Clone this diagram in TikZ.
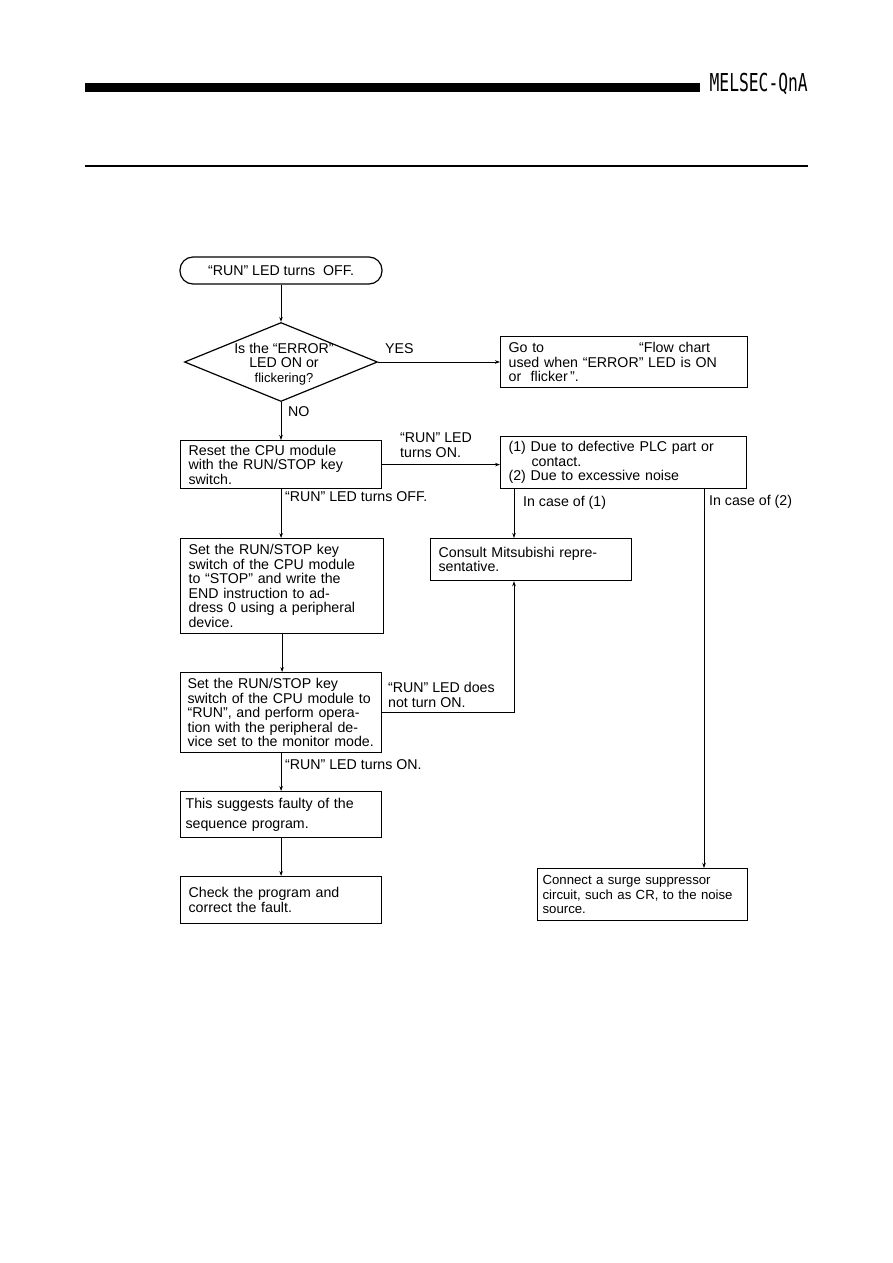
\documentclass[tikz,border=0pt]{standalone}
\usepackage{fontspec}
\setmainfont{Liberation Sans}
\newfontfamily\headfont{DejaVu Sans Mono}
\usepackage{graphicx}
\usetikzlibrary{arrows.meta,positioning,shapes.geometric}

\begin{document}
\begin{tikzpicture}[
  x=1pt, y=-1pt,
  every node/.style={font=\fontsize{14.2}{14.5}\selectfont},
  box/.style 2 args={draw, line width=1.2pt, anchor=north west, align=left,
    inner xsep=8pt, inner ysep=0pt, text width=#1, minimum height=#2},
  term/.style={draw, line width=1.2pt, rounded corners=13pt, minimum width=202pt,
    minimum height=27pt, inner sep=0pt},
  ask/.style={diamond, draw, line width=1.2pt, minimum width=193pt, minimum height=79pt, inner sep=0pt},
  flow/.style={-{Stealth[length=5pt,width=3.5pt]}, line width=0.8pt},
  note/.style={anchor=west, align=left, inner sep=1pt}
]
\useasboundingbox (0,0) rectangle (893,1263);

% page header
\fill (85,83) rectangle (700,92);
\node[anchor=base east, inner sep=0pt] (brand) at (808,92)
  {\scalebox{0.66}[1]{\headfont\fontsize{24.7}{25}\selectfont MELSEC-QnA}};
\draw[line width=2pt] (85,166) -- (808,166);

% flow chart
\node[term] (start) at (281,270.5) {“RUN” LED turns\ \ OFF.};
\node[ask] (ask) at (281,362) {};
\node[align=center, inner sep=0pt] (asktxt) at (284,364)
  {Is the “ERROR”\\LED ON or\\{\fontsize{13}{14}\selectfont flickering?}};
\node[box={231pt}{51pt}] (goto) at (500,336)
  {Go to\hspace{95pt}“Flow chart\\used when “ERROR” LED is ON\\or\ \ flicker\,”.};
\node[box={230pt}{52pt}] (cause) at (500,436)
  {(1) Due to defective PLC part or\\\hspace*{23pt}contact.\\(2) Due to excessive noise};
\node[box={185pt}{48pt}] (reset) at (180,440)
  {Reset the CPU module\\with the RUN/STOP key\\switch.};
\node[box={187pt}{95pt}] (stop) at (180,538)
  {Set the RUN/STOP key\\switch of the CPU module\\to “STOP” and write the\\END instruction to ad-\\dress 0 using a peripheral\\device.};
\node[box={185pt}{42pt}] (consult) at (430,538)
  {Consult Mitsubishi repre-\\sentative.};
\node[box={187pt}{80pt}, inner xsep=7pt] (run) at (180,672)
  {Set the RUN/STOP key\\switch of the CPU module to\\“RUN”, and perform opera-\\tion with the peripheral de-\\vice set to the monitor mode.};
\node[box={191pt}{46pt}, inner xsep=5pt, font=\fontsize{14.2}{20}\selectfont] (fault) at (180,791)
  {This suggests faulty of the\\sequence program.};
\node[box={185pt}{47pt}] (fix) at (180,876)
  {Check the program and\\correct the fault.};
\node[box={200pt}{52pt}, inner xsep=5pt, font=\fontsize{13.2}{14.5}\selectfont] (surge) at (537,868)
  {Connect a surge suppressor\\circuit, such as CR, to the noise\\source.};

% connectors
\draw[flow] (start.south) -- (ask.north);
\draw[flow] (ask.east) -- (ask.east -| goto.west);
\node[note] (yes) at (384,349) {YES};
\draw[flow] (ask.south) -- (ask.south |- reset.north);
\node[note] (no) at (287,412) {NO};
\draw[flow] (reset.east) -- (reset.east -| cause.west);
\node[note] (ledon) at (399,445) {“RUN” LED\\turns ON.};
\draw[flow] (reset.south) -- (reset.south |- stop.north);
\node[note] (ledoff) at (284,497) {“RUN” LED turns OFF.};
\draw[flow] ([xshift=14pt]cause.south west) -- ([xshift=84pt]consult.north west);
\node[note] (caseone) at (522,503) {In case of (1)};
\draw[flow] ([xshift=204pt]cause.south west) -- ([xshift=167pt]surge.north west);
\node[note] (casetwo) at (708,502) {In case of (2)};
\draw[flow] (stop.south) -- (stop.south |- run.north);
\draw[flow] (run.east) -| ([xshift=84pt]consult.south west);
\node[note] (noton) at (387,695) {“RUN” LED does\\not turn ON.};
\draw[flow] (run.south) -- (run.south |- fault.north);
\node[note] (runon) at (284,765) {“RUN” LED turns ON.};
\draw[flow] (fault.south) -- (fault.south |- fix.north);
\end{tikzpicture}
\end{document}
